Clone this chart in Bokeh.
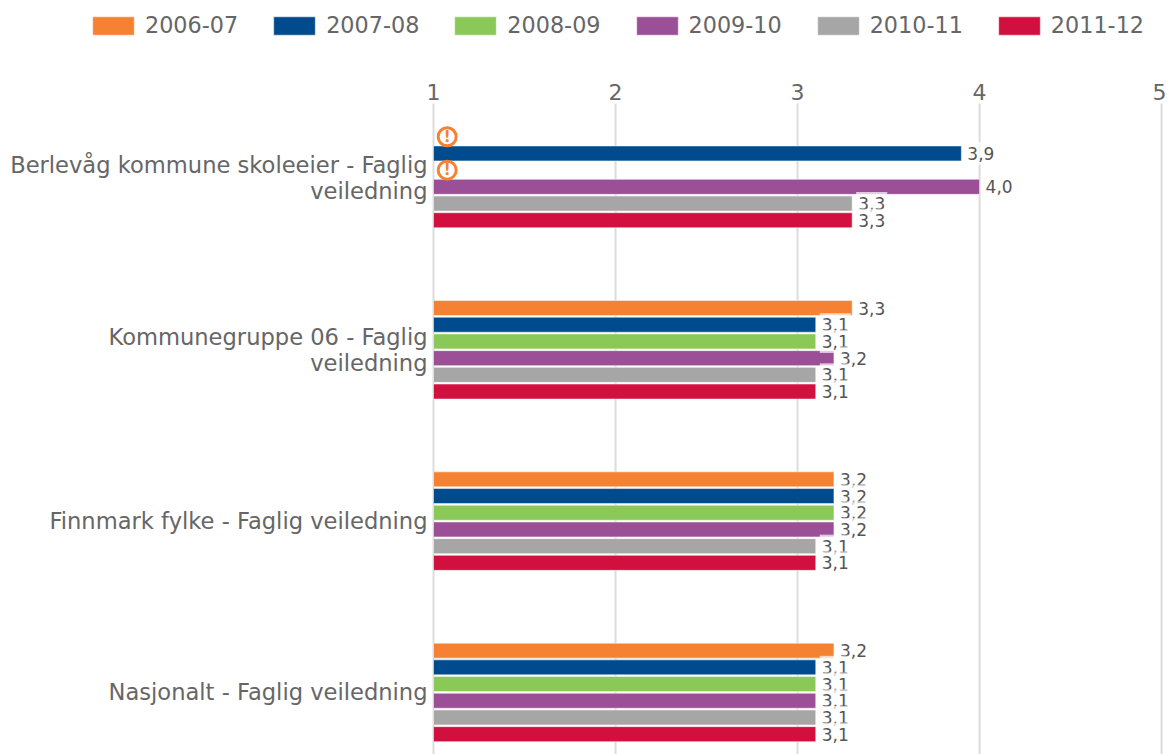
from bokeh.plotting import figure
from bokeh.models import Range1d, Legend, LegendItem, ColumnDataSource, FixedTicker
from bokeh.core.properties import value
from bokeh.embed import file_html
from bokeh.resources import INLINE

groups = ["Berlevåg kommune skoleeier - Faglig\nveiledning",
          "Kommunegruppe 06 - Faglig\nveiledning",
          "Finnmark fylke - Faglig veiledning",
          "Nasjonalt - Faglig veiledning"]
nan = float("nan")
years = ["2006-07", "2007-08", "2008-09", "2009-10", "2010-11", "2011-12"]
colors = ["#F58233", "#004B8D", "#8AC858", "#9B4F96", "#A6A6A6", "#D1103F"]
ticks = [1, 2, 3, 4, 5]
s0 = [nan, 3.3, 3.2, 3.2]
s1 = [3.9, 3.1, 3.2, 3.1]
s2 = [nan, 3.1, 3.2, 3.1]
s3 = [4.0, 3.2, 3.2, 3.1]
s4 = [3.3, 3.1, 3.1, 3.1]
s5 = [3.3, 3.1, 3.1, 3.1]
series = [s0, s1, s2, s3, s4, s5]

FONT = "DejaVu Sans"
TXT = "#666666"
PITCH = 0.0975

p = figure(width=1166, height=754, output_backend="svg", toolbar_location=None,
           x_range=Range1d(-1.379, 5.027), y_range=Range1d(3.3625, -1.039),
           x_axis_location="above", min_border=0,
           outline_line_color=None, background_fill_color="white")

p.xaxis.fixed_location = -0.455
p.xaxis.ticker = FixedTicker(ticks=ticks)
p.xaxis.axis_line_color = None
p.xaxis.major_tick_line_color = None
p.xaxis.minor_tick_line_color = None
p.xaxis.major_label_text_font = FONT
p.xaxis.major_label_text_font_size = "22px"
p.xaxis.major_label_text_color = TXT
p.xaxis.major_label_standoff = -5

p.yaxis.fixed_location = 1
p.yaxis.ticker = FixedTicker(ticks=list(range(len(groups))))
p.yaxis.major_label_overrides = {i: g for i, g in enumerate(groups)}
p.yaxis.axis_line_color = None
p.yaxis.major_tick_line_color = None
p.yaxis.minor_tick_line_color = None
p.yaxis.major_label_text_font = FONT
p.yaxis.major_label_text_font_size = "22.6px"
p.yaxis.major_label_text_line_height = 1.0
p.yaxis.major_label_text_color = TXT
p.yaxis.major_label_standoff = 0

p.grid.visible = False
p.segment(x0=ticks, x1=ticks, y0=[-0.438] * len(ticks), y1=[3.3625] * len(ticks),
          line_color="#DCDCDC", line_width=2)

items = []
label_sources = []
warn_x, warn_y = [], []
for k, vals in enumerate(series):
    ys = [g + (k - 2.5) * PITCH for g in range(len(groups))]
    src = ColumnDataSource(dict(y=ys, right=vals, label=[("" if v != v else f"{v:.1f}".replace(".", ",")) for v in vals]))
    r = p.hbar(y="y", left=1, right="right", height=0.0875, source=src,
               fill_color=colors[k], line_color="white", line_alpha=0.5, line_width=1)
    items.append(LegendItem(label=years[k], renderers=[r]))
    label_sources.append(src)
    for y, v in zip(ys, vals):
        if v != v:
            warn_x.append(1.075)
            warn_y.append(y)

for src in label_sources:
    d = {key: [a for a, v in zip(src.data[key], src.data["right"]) if v == v] for key in src.data}
    p.text(x="right", y="y", text="label", source=ColumnDataSource(d), x_offset=4,
           text_font=value(FONT), text_font_size="17px", text_color="#555555",
           text_align="left", text_baseline="middle",
           background_fill_color="white", background_fill_alpha=0.7,
           padding=(2, 5))

p.scatter(warn_x, warn_y, marker="circle", size=18, fill_color="white",
          line_color="#F58233", line_width=3)
p.text(warn_x, warn_y, text=["!"] * len(warn_x), text_font=value(FONT), text_font_style="bold",
       text_font_size="15px", text_color="#F58233", text_align="center", text_baseline="middle")

legend = Legend(items=items, orientation="horizontal", location=(87, 716),
                glyph_width=52, glyph_height=23, label_standoff=6, spacing=30,
                padding=0, margin=0, border_line_color=None, background_fill_alpha=0,
                label_text_font=FONT, label_text_font_size="22.3px", label_text_color=TXT,
                label_height=18)
p.add_layout(legend, "center")

open("out.html", "w").write(file_html(p, INLINE))
